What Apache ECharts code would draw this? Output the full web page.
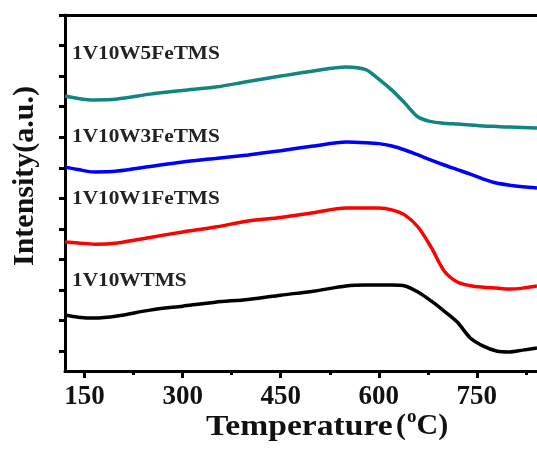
<!DOCTYPE html>
<html>
<head>
<meta charset="utf-8">
<title>TPR curves</title>
<script src="https://cdn.jsdelivr.net/npm/echarts@6/dist/echarts.min.js"></script>
<style>
  html, body { margin: 0; padding: 0; background: #fff; }
  #chart { width: 537px; height: 449px; }
</style>
</head>
<body>
<div id="chart"></div>
<script>
// temperature (°C) sample points
var temps = [120, 140, 165, 200, 250, 300, 350, 400, 450, 500, 550, 580, 600,
             620, 640, 660, 680, 700, 720, 740, 760, 780, 800, 820, 842];
// intensities (a.u., offset per sample)
var w5Fe = [9.35, 9.27, 9.22, 9.25, 9.41, 9.53, 9.64, 9.82, 10.00, 10.17, 10.30, 10.21, 9.90,
            9.54, 9.11, 8.66, 8.51, 8.46, 8.43, 8.40, 8.37, 8.35, 8.33, 8.32, 8.30];
var w3Fe = [7.02, 6.94, 6.86, 6.89, 7.04, 7.19, 7.30, 7.42, 7.56, 7.71, 7.84, 7.82, 7.79,
            7.71, 7.58, 7.42, 7.25, 7.09, 6.94, 6.79, 6.63, 6.50, 6.43, 6.38, 6.34];
var w1Fe = [4.57, 4.54, 4.50, 4.54, 4.72, 4.90, 5.06, 5.26, 5.37, 5.53, 5.68, 5.68, 5.68,
            5.62, 5.45, 5.06, 4.40, 3.62, 3.26, 3.14, 3.09, 3.06, 3.03, 3.06, 3.13];
var wOnly = [2.18, 2.11, 2.08, 2.15, 2.34, 2.47, 2.60, 2.69, 2.83, 2.96, 3.13, 3.16, 3.16,
             3.16, 3.13, 2.93, 2.64, 2.31, 1.95, 1.43, 1.16, 1.00, 0.97, 1.03, 1.10];
var seriesNames = ['1V10W5FeTMS', '1V10W3FeTMS', '1V10W1FeTMS', '1V10WTMS'];
var seriesColors = ['#11857f', '#0000ff', '#ff0000', '#000000'];
var majorTicks = [150, 300, 450, 600, 750];
var minorTicks = [225, 375, 525, 675, 825];
var yTicks = [1, 2, 3, 4, 5, 6, 7, 8, 9, 10, 11, 12];

var font = '"Liberation Serif", "Times New Roman", serif';
var chart = echarts.init(document.getElementById('chart'));

function pairs(ys) {
  return temps.map(function (t, i) { return [t, ys[i]]; });
}
var allData = [w5Fe, w3Fe, w1Fe, wOnly];

var series = allData.map(function (d, i) {
  return {
    name: seriesNames[i],
    type: 'line',
    data: pairs(d),
    smooth: 0.3,
    showSymbol: false,
    lineStyle: { color: seriesColors[i], width: 3.5 },
    z: 3
  };
});

// sample names written inside the plot
var labelY = [56, 139, 201, 283];
var graphics = seriesNames.map(function (n, i) {
  return {
    type: 'text', x: 72, y: labelY[i] - 11, scaleX: 1.12,
    style: { text: n, font: 'bold 19px ' + font, fill: '#222' }
  };
});
graphics.push({
  type: 'text', x: 25, y: 176, rotation: Math.PI / 2,
  style: { text: 'Intensity(a.u.)', font: 'bold 30px ' + font, fill: '#111',
           align: 'center', verticalAlign: 'middle' }
});
graphics.push({
  type: 'text', x: 206, y: 412, scaleX: 1.12,
  style: { text: 'Temperature', font: 'bold 30px ' + font, fill: '#111' }
});
graphics.push({
  type: 'text', x: 396, y: 408,
  style: {
    text: '{a|(}{s|o}{a|C)}',
    fill: '#111',
    rich: {
      a: { font: 'bold 30px ' + font, fill: '#111' },
      s: { font: 'bold 19px ' + font, fill: '#111', padding: [0, 0, 18, 1] }
    }
  }
});

chart.setOption({
  animation: false,
  graphic: graphics,
  grid: [
    { left: 65, right: 0, top: 15, bottom: 78 },
    { left: 65, right: 0, top: 15, bottom: 78 }
  ],
  xAxis: [
    {
      type: 'value', min: 120, max: 842, gridIndex: 0, position: 'bottom',
      axisLine: { lineStyle: { color: '#000', width: 3 } },
      axisTick: { customValues: majorTicks, length: 7, lineStyle: { width: 3, color: '#000' } },
      axisLabel: { customValues: majorTicks, margin: 13, color: '#111',
                   fontFamily: font, fontWeight: 'bold', fontSize: 27 },
      splitLine: { show: false }
    },
    {
      type: 'value', min: 120, max: 842, gridIndex: 0, position: 'top',
      axisLine: { lineStyle: { color: '#000', width: 3 } },
      axisTick: { show: false }, axisLabel: { show: false }, splitLine: { show: false }
    },
    {
      type: 'value', min: 120, max: 842, gridIndex: 1, position: 'bottom',
      axisLine: { show: false },
      axisTick: { customValues: minorTicks, length: 4, lineStyle: { width: 3, color: '#000' } },
      axisLabel: { show: false }, splitLine: { show: false }
    }
  ],
  yAxis: [
    {
      type: 'value', min: 0.347, max: 12, gridIndex: 0,
      axisLine: { show: true, lineStyle: { color: '#000', width: 3 } },
      axisTick: { show: true, customValues: yTicks, length: 6, lineStyle: { width: 3, color: '#000' } },
      axisLabel: { show: false }, splitLine: { show: false }
    },
    {
      type: 'value', min: 0.347, max: 12, gridIndex: 1, show: false
    }
  ],
  series: series
});
</script>
</body>
</html>
